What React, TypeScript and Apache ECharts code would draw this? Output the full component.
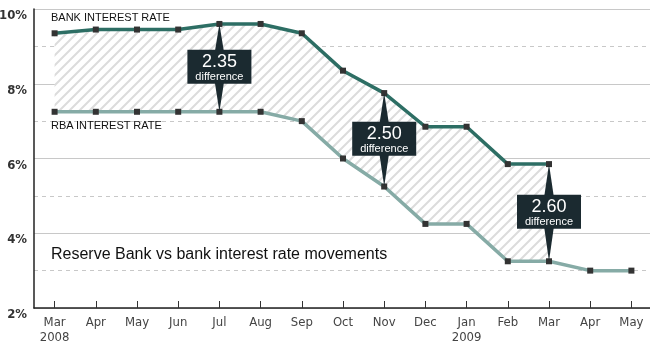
import React, { useEffect, useRef } from "react";
import * as echarts from "echarts";

const months = ["Mar\n2008", "Apr", "May", "Jun", "Jul", "Aug", "Sep", "Oct", "Nov", "Dec", "Jan\n2009", "Feb", "Mar", "Apr", "May"];
const bankRate = [9.35, 9.45, 9.45, 9.45, 9.6, 9.6, 9.35, 8.35, 7.75, 6.85, 6.85, 5.85, 5.85];
const rbaRate = [7.25, 7.25, 7.25, 7.25, 7.25, 7.25, 7.0, 6.0, 5.25, 4.25, 4.25, 3.25, 3.25, 3.0, 3.0];
const calloutIndices = [4, 8, 12];
const yTicks = [2, 4, 6, 8, 10];

function makeHatch() {
  const c = document.createElement("canvas");
  c.width = 10;
  c.height = 10;
  const ctx = c.getContext("2d")!;
  ctx.fillStyle = "#ffffff";
  ctx.fillRect(0, 0, 10, 10);
  ctx.strokeStyle = "#dcdcdc";
  ctx.lineWidth = 2;
  ctx.beginPath();
  ctx.moveTo(-2, 12);
  ctx.lineTo(12, -2);
  ctx.moveTo(-7, 7);
  ctx.lineTo(7, -7);
  ctx.moveTo(3, 17);
  ctx.lineTo(17, 3);
  ctx.stroke();
  return c;
}

export default function App() {
  const ref = useRef<HTMLDivElement>(null);
  useEffect(() => {
    const chart = echarts.init(ref.current!, null, { renderer: "svg" });
    const n = bankRate.length;
    const base = rbaRate.slice(0, n);
    const diff = bankRate.map((b, i) => +(b - rbaRate[i]).toFixed(2));
    const calloutData = calloutIndices.map((i) => [i, bankRate[i], rbaRate[i]]);
    const narrow = "'Liberation Sans Narrow', 'DejaVu Sans Condensed', 'Liberation Sans', sans-serif";
    const sans = "'Liberation Sans', Arial, sans-serif";

    chart.setOption({
      animation: false,
      grid: { left: 34, top: 9, width: 618, bottom: 42, containLabel: false, outerBoundsMode: "none" },
      xAxis: {
        type: "category",
        data: months,
        boundaryGap: true,
        axisLine: { lineStyle: { color: "#222", width: 1.5 } },
        axisTick: { show: true, inside: true, alignWithLabel: true, length: 7, lineStyle: { color: "#333" } },
        axisLabel: { color: "#444", fontFamily: narrow, fontSize: 13, lineHeight: 15, margin: 6, interval: 0 },
        splitLine: { show: false },
      },
      yAxis: {
        type: "value",
        min: yTicks[0],
        max: yTicks[yTicks.length - 1],
        interval: 2,
        axisLine: { show: true, lineStyle: { color: "#222", width: 1.5 } },
        axisTick: { show: false },
        axisLabel: {
          formatter: "{value}%",
          color: "#333",
          fontFamily: narrow,
          fontWeight: "bold",
          fontSize: 13,
          lineHeight: 11,
          verticalAlign: "top",
          margin: 7,
        },
        splitLine: { show: true, lineStyle: { color: "#c8c8c8", width: 1 } },
        minorTick: { show: false, splitNumber: 2 },
        minorSplitLine: { show: true, lineStyle: { color: "#c8c8c8", type: [4, 4], width: 1 } },
      },
      series: [
        {
          type: "line",
          data: base,
          stack: "gap",
          symbol: "none",
          lineStyle: { opacity: 0 },
          silent: true,
          z: 1,
        },
        {
          type: "line",
          data: diff,
          stack: "gap",
          symbol: "none",
          lineStyle: { opacity: 0 },
          areaStyle: { color: { image: makeHatch(), repeat: "repeat", imageWidth: 10, imageHeight: 10 }, opacity: 1 },
          silent: true,
          z: 1,
        },
        {
          type: "line",
          name: "RBA",
          data: rbaRate,
          symbol: "rect",
          symbolSize: 6,
          showAllSymbol: true,
          lineStyle: { color: "#86aba6", width: 3.5 },
          itemStyle: { color: "#333" },
          z: 3,
        },
        {
          type: "line",
          name: "Bank",
          data: bankRate,
          symbol: "rect",
          symbolSize: 6,
          showAllSymbol: true,
          lineStyle: { color: "#2d6e64", width: 3.5 },
          itemStyle: { color: "#333" },
          z: 4,
        },
        {
          type: "custom",
          data: calloutData,
          z: 10,
          renderItem: (params: any, api: any) => {
            const top = api.coord([api.value(0), api.value(1)]);
            const bot = api.coord([api.value(0), api.value(2)]);
            const cx = top[0];
            const cy = (top[1] + bot[1]) / 2 - 1;
            const d = (api.value(1) - api.value(2)).toFixed(2);
            const fill = "#1b2a30";
            return {
              type: "group",
              children: [
                {
                  type: "polygon",
                  shape: { points: [[cx, top[1]], [cx + 7, cy], [cx, bot[1]], [cx - 7, cy]] },
                  style: { fill },
                },
                { type: "rect", shape: { x: cx - 32, y: cy - 17, width: 64, height: 34 }, style: { fill } },
                {
                  type: "text",
                  style: { text: d, x: cx, y: cy - 6, align: "center", verticalAlign: "middle", fill: "#fff", font: `18px ${sans}` },
                },
                {
                  type: "text",
                  style: { text: "difference", x: cx, y: cy + 9, align: "center", verticalAlign: "middle", fill: "#fff", font: `11px ${sans}` },
                },
              ],
            };
          },
        },
      ],
      graphic: [
        { type: "text", left: 51, top: 11, z: 20, style: { text: "BANK INTEREST RATE", fill: "#111", font: `11px ${sans}` } },
        { type: "text", left: 51, top: 119, z: 20, style: { text: "RBA INTEREST RATE", fill: "#111", font: `11px ${sans}` } },
        { type: "text", left: 51, top: 245, z: 20, style: { text: "Reserve Bank vs bank interest rate movements", fill: "#111", font: `16px ${sans}` } },
      ],
    });
    return () => chart.dispose();
  }, []);
  return <div ref={ref} style={{ position: "fixed", left: 0, top: 0, width: 650, height: 350 }} />;
}
